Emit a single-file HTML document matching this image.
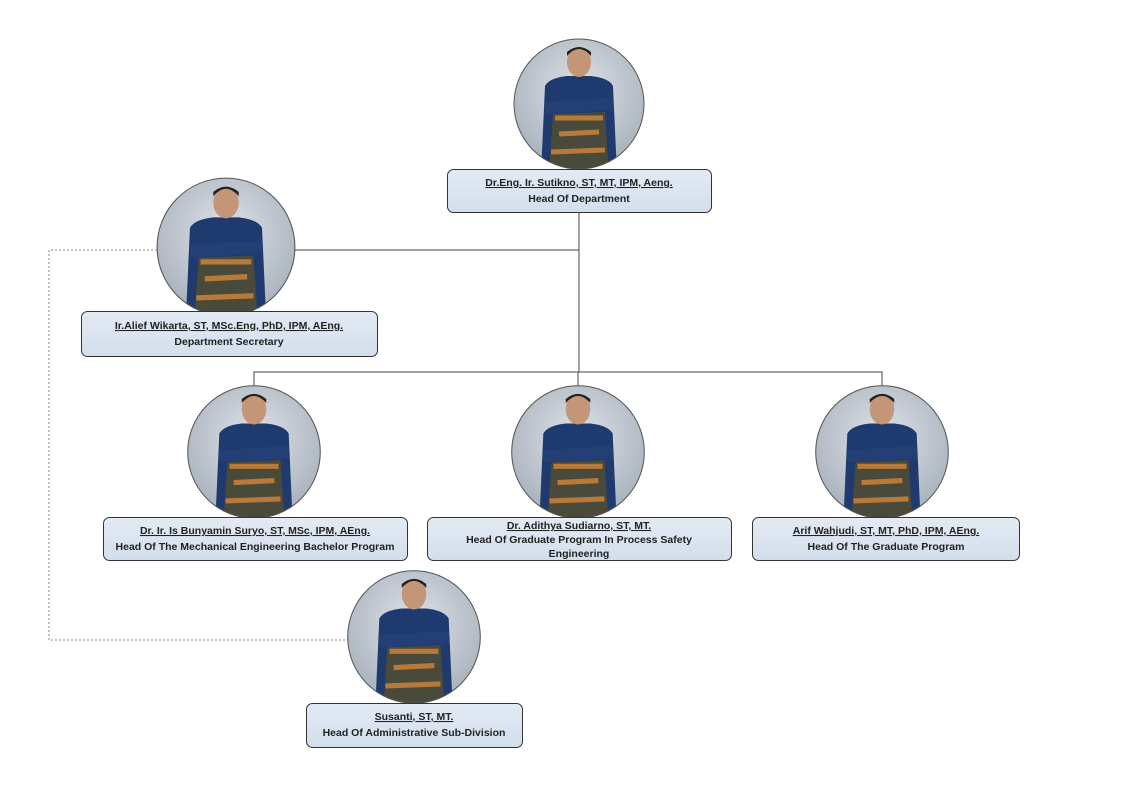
<!DOCTYPE html>
<html><head><meta charset="utf-8"><style>
html,body{margin:0;padding:0;background:#fff;}
svg{display:block;}
text{font-family:"Liberation Sans",Arial,sans-serif;font-weight:bold;font-size:10.5px;fill:#222;}
.u{text-decoration:underline;}
</style></head><body>
<svg width="1123" height="793" viewBox="0 0 1123 793">
<defs>
<radialGradient id="bg" cx="50%" cy="40%" r="60%">
<stop offset="0" stop-color="#dfe3e8"/><stop offset="1" stop-color="#a9b2bd"/></radialGradient>
<linearGradient id="bx" x1="0" y1="0" x2="0" y2="1">
<stop offset="0" stop-color="#e3eaf4"/><stop offset="1" stop-color="#d3deec"/></linearGradient>
<clipPath id="c"><circle cx="0" cy="0" r="65"/></clipPath>
<g id="p">
<circle cx="0" cy="0" r="65" fill="url(#bg)"/>
<g clip-path="url(#c)">
<path d="M-34,-18 Q-30,-26 -12,-28 L12,-28 Q30,-26 34,-18 L38,70 L-38,70 Z" fill="#1f3a6e"/>
<path d="M-26,10 L26,8 L30,70 L-30,70 Z" fill="#4a4a3a"/>
<path d="M-24,14 L24,14 M-20,30 L20,28 M-28,48 L26,46" stroke="#b87a3a" stroke-width="5" fill="none"/>
<path d="M-34,-2 L34,-6 L34,6 L-34,10 Z" fill="#243f75"/>
<ellipse cx="0" cy="-42" rx="12" ry="15" fill="#c49577"/>
<path d="M-12,-48 Q0,-62 12,-48 L12,-52 Q0,-62 -12,-52 Z" fill="#222"/>
</g>
<circle cx="0" cy="0" r="65" fill="none" stroke="#555" stroke-width="1"/>
</g>
</defs>
<!-- connectors -->
<g stroke="#444" stroke-width="1" fill="none">
<path d="M579,213 V372"/>
<path d="M295,250 H579"/>
<path d="M254,386 V372 H882 V386"/>
<path d="M578,372 V386"/>
</g>
<path d="M157,250 H49 V640 H348" stroke="#888" stroke-width="1" stroke-dasharray="2,2" fill="none"/>
<!-- people -->
<use href="#p" transform="translate(579,104)"/>
<use href="#p" transform="translate(226,247) scale(1.06)"/>
<use href="#p" transform="translate(254,452) scale(1.02)"/>
<use href="#p" transform="translate(578,452) scale(1.02)"/>
<use href="#p" transform="translate(882,452) scale(1.02)"/>
<use href="#p" transform="translate(414,637) scale(1.02)"/>
<!-- boxes -->
<g fill="url(#bx)" stroke="#333" stroke-width="1">
<rect x="447.5" y="169.5" width="264" height="43" rx="6"/>
<rect x="81.5" y="311.5" width="296" height="45" rx="6"/>
<rect x="103.5" y="517.5" width="304" height="43" rx="6"/>
<rect x="427.5" y="517.5" width="304" height="43" rx="6"/>
<rect x="752.5" y="517.5" width="267" height="43" rx="6"/>
<rect x="306.5" y="703.5" width="216" height="44" rx="6"/>
</g>
<g text-anchor="middle">
<text x="579" y="186" class="u">Dr.Eng. Ir. Sutikno, ST, MT, IPM, Aeng.</text>
<text x="579" y="202">Head Of Department</text>
<text x="229" y="329" class="u">Ir.Alief Wikarta, ST, MSc.Eng,  PhD, IPM, AEng.</text>
<text x="229" y="345">Department Secretary</text>
<text x="255" y="534" class="u">Dr. Ir. Is Bunyamin Suryo, ST, MSc, IPM, AEng.</text>
<text x="255" y="550">Head Of The Mechanical  Engineering Bachelor Program</text>
<text x="579" y="529" class="u">Dr. Adithya Sudiarno, ST, MT.</text>
<text x="579" y="543">Head Of Graduate Program In Process Safety</text>
<text x="579" y="557">Engineering</text>
<text x="886" y="534" class="u">Arif Wahjudi, ST, MT, PhD, IPM, AEng.</text>
<text x="886" y="550">Head Of The Graduate Program</text>
<text x="414" y="720" class="u">Susanti, ST, MT.</text>
<text x="414" y="736">Head Of Administrative Sub-Division</text>
</g>
</svg>
</body></html>
